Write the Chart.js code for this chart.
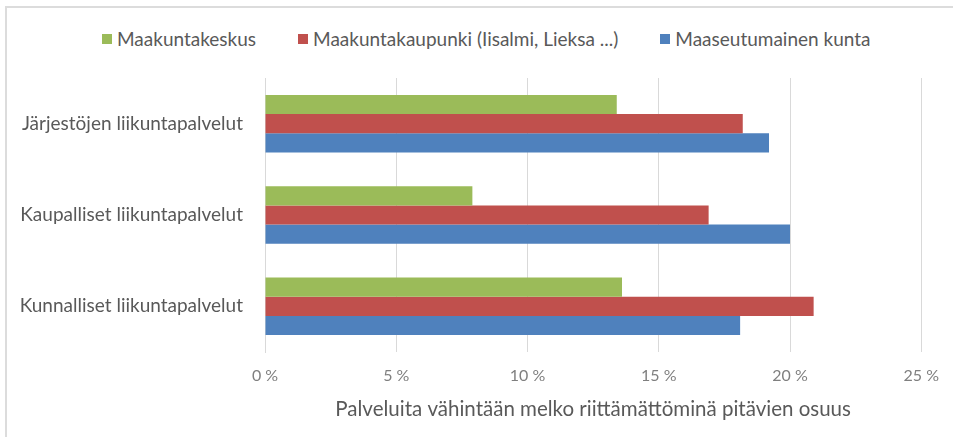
<!DOCTYPE html>
<html>
<head>
<meta charset="utf-8">
<script src="https://cdn.jsdelivr.net/npm/chart.js@4/dist/chart.umd.min.js"></script>
<style>
    html, body { margin: 0; padding: 0; background: #ffffff; overflow: hidden; }
    #wrap { position: relative; width: 953px; height: 437px; }
    #frame {
        position: absolute; left: 5px; top: 6px; width: 1000px; height: 500px;
        border-left: 2px solid #dcdcdc; border-top: 2px solid #dcdcdc;
    }
    #legend {
        position: absolute; left: 102px; top: 27px; display: flex; align-items: center;
        font-family: Lato, sans-serif; font-size: 19px; color: #595959;
    }
    #legend .item { display: flex; align-items: center; margin-right: 42px; }
    #legend .box { width: 10px; height: 10px; margin-right: 5px; }
    canvas { position: absolute; left: 0; top: 0; }
</style>
</head>
<body>
<div id="wrap">
    <div id="frame"></div>
    <div id="legend"></div>
    <canvas id="chart" width="953" height="437"></canvas>
</div>
<script>
// categories, top to bottom
const categories = ['Järjestöjen liikuntapalvelut', 'Kaupalliset liikuntapalvelut', 'Kunnalliset liikuntapalvelut'];

// share (%) of respondents per group
const seriesNames = ['Maakuntakeskus', 'Maakuntakaupunki (Iisalmi, Lieksa ...)', 'Maaseutumainen kunta'];
const maakuntakeskus = [13.4, 7.9, 13.6];
const maakuntakaupunki = [18.2, 16.9, 20.9];
const maaseutumainen = [19.2, 20.0, 18.1];
const seriesColors = ['#9bbb59', '#c0504d', '#4f81bd'];

const xTicks = [0, 5, 10, 15, 20, 25];
const axisTitle = 'Palveluita vähintään melko riittämättöminä pitävien osuus';

// html legend (keeps the wide item spacing of the original)
const legendEl = document.getElementById('legend');
seriesNames.forEach((name, i) => {
    const item = document.createElement('div');
    item.className = 'item';
    const box = document.createElement('span');
    box.className = 'box';
    box.style.background = seriesColors[i];
    const label = document.createElement('span');
    label.textContent = name;
    item.appendChild(box);
    item.appendChild(label);
    legendEl.appendChild(item);
});

const values = [maakuntakeskus, maakuntakaupunki, maaseutumainen];

new Chart(document.getElementById('chart'), {
    type: 'bar',
    data: {
        labels: categories,
        datasets: values.map((data, i) => ({
            label: seriesNames[i],
            data: data,
            backgroundColor: seriesColors[i],
            borderWidth: 0,
            categoryPercentage: 0.63,
            barPercentage: 1.0
        }))
    },
    options: {
        indexAxis: 'y',
        responsive: false,
        animation: false,
        layout: { padding: { top: 78, right: 31, bottom: 0, left: 0 } },
        plugins: {
            legend: { display: false },
            tooltip: { enabled: false }
        },
        scales: {
            x: {
                min: xTicks[0],
                max: xTicks[xTicks.length - 1],
                afterBuildTicks: (scale) => { scale.ticks = xTicks.map(v => ({ value: v })); },
                afterFit: (scale) => { scale.height = 85; },
                grid: { color: '#d9d9d9', drawTicks: false },
                border: { display: false },
                ticks: {
                    padding: 14,
                    color: '#7f7f7f',
                    font: { family: 'Lato', size: 16 },
                    callback: (v) => v + ' %'
                },
                title: {
                    display: true,
                    text: axisTitle,
                    color: '#595959',
                    font: { family: 'Lato', size: 20.5 },
                    padding: { top: 6, bottom: 15 }
                }
            },
            y: {
                afterFit: (scale) => { scale.width = 265; },
                grid: { display: false, drawTicks: false },
                border: { display: true, color: '#d9d9d9' },
                ticks: {
                    padding: 22,
                    color: '#595959',
                    font: { family: 'Lato', size: 19 }
                }
            }
        }
    }
});
</script>
</body>
</html>
